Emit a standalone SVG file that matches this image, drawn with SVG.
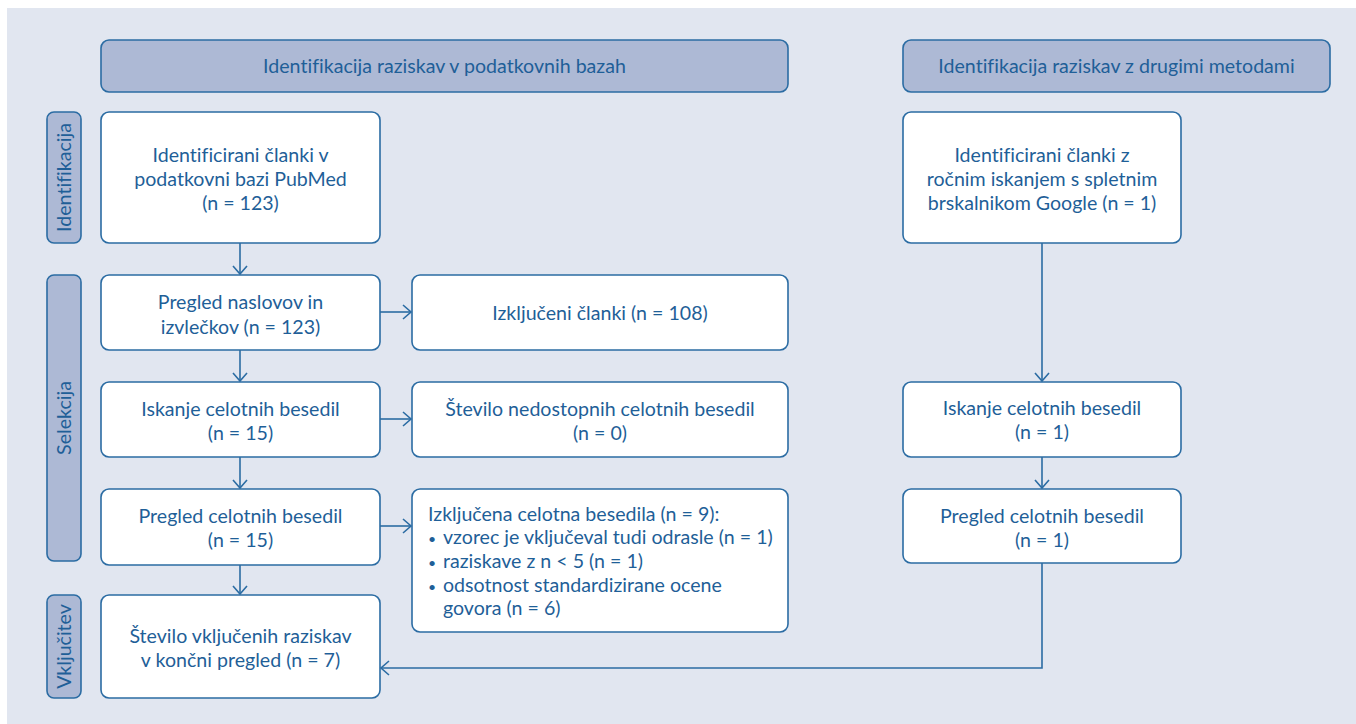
<svg xmlns="http://www.w3.org/2000/svg" width="1356" height="724" viewBox="0 0 1356 724">
<defs>
<style>
.bg{fill:#e1e6f0}
.box{fill:#ffffff;stroke:#2b6ca3;stroke-width:1.6}
.hdr{fill:#adb9d5;stroke:#2b6ca3;stroke-width:1.6}
text{font-family:Lato,"Open Sans",sans-serif;font-size:19.6px;fill:#1f5f98;font-variant-ligatures:none}
.c{text-anchor:middle}
.b{font-size:14px}
.ln{fill:none;stroke:#2b6ca3;stroke-width:1.6}
</style>
<marker id="ar" markerUnits="userSpaceOnUse" markerWidth="14" markerHeight="16" refX="9" refY="8" orient="auto">
<path d="M1,1 L9,8 L1,15" fill="none" stroke="#2b6ca3" stroke-width="1.6"/>
</marker>
</defs>
<rect class="bg" x="7" y="8" width="1349" height="716"/>

<g id="hdr-db"><rect class="hdr" x="101" y="40" width="687" height="52" rx="8"/><text class="c" x="444.5" y="73">Identifikacija raziskav v podatkovnih bazah</text></g>
<g id="hdr-other"><rect class="hdr" x="903" y="40" width="427" height="52" rx="8"/><text class="c" x="1116.5" y="73">Identifikacija raziskav z drugimi metodami</text></g>

<g id="side-ident"><rect class="hdr" x="47" y="112" width="34" height="131" rx="7"/><text class="c" transform="translate(71,177.5) rotate(-90)">Identifikacija</text></g>
<g id="side-sel"><rect class="hdr" x="47" y="275" width="34" height="286" rx="7"/><text class="c" transform="translate(71,418) rotate(-90)">Selekcija</text></g>
<g id="side-vkl"><rect class="hdr" x="47" y="595" width="34" height="103" rx="7"/><text class="c" transform="translate(71,646.5) rotate(-90)">Vključitev</text></g>

<g id="n-pubmed"><rect class="box" x="101" y="112" width="279" height="131" rx="8"/>
<text class="c" x="240.5" y="162">Identificirani članki v</text>
<text class="c" x="240.5" y="186">podatkovni bazi PubMed</text>
<text class="c" x="240.5" y="210">(n = 123)</text></g>

<g id="n-naslovi"><rect class="box" x="101" y="275" width="279" height="75" rx="8"/>
<text class="c" x="240.5" y="309">Pregled naslovov in</text>
<text class="c" x="240.5" y="334">izvlečkov (n = 123)</text></g>

<g id="n-izkl"><rect class="box" x="412" y="275" width="376" height="75" rx="8"/>
<text class="c" x="600" y="320">Izključeni članki (n = 108)</text></g>

<g id="n-iskanje"><rect class="box" x="101" y="382" width="279" height="75" rx="8"/>
<text class="c" x="240.5" y="416">Iskanje celotnih besedil</text>
<text class="c" x="240.5" y="440">(n = 15)</text></g>

<g id="n-nedost"><rect class="box" x="412" y="382" width="376" height="75" rx="8"/>
<text class="c" x="600" y="416">Število nedostopnih celotnih besedil</text>
<text class="c" x="600" y="440">(n = 0)</text></g>

<g id="n-pregled"><rect class="box" x="101" y="489" width="279" height="76" rx="8"/>
<text class="c" x="240.5" y="523">Pregled celotnih besedil</text>
<text class="c" x="240.5" y="547">(n = 15)</text></g>

<g id="n-izkl2"><rect class="box" x="412" y="489" width="376" height="143" rx="8"/>
<text x="428" y="521">Izključena celotna besedila (n = 9):</text>
<text y="544"><tspan class="b" x="428">•</tspan><tspan x="443">vzorec je vključeval tudi odrasle (n = 1)</tspan></text>
<text y="568"><tspan class="b" x="428">•</tspan><tspan x="443">raziskave z n &lt; 5 (n = 1)</tspan></text>
<text y="592"><tspan class="b" x="428">•</tspan><tspan x="443">odsotnost standardizirane ocene</tspan></text>
<text x="443" y="615">govora (n = 6)</text></g>

<g id="n-final"><rect class="box" x="101" y="595" width="279" height="103" rx="8"/>
<text class="c" x="240.5" y="643">Število vključenih raziskav</text>
<text class="c" x="240.5" y="667">v končni pregled (n = 7)</text></g>

<g id="n-google"><rect class="box" x="903" y="112" width="278" height="131" rx="8"/>
<text class="c" x="1042" y="162">Identificirani članki z</text>
<text class="c" x="1042" y="186">ročnim iskanjem s spletnim</text>
<text class="c" x="1042" y="210">brskalnikom Google (n = 1)</text></g>

<g id="n-iskanje2"><rect class="box" x="903" y="382" width="278" height="75" rx="8"/>
<text class="c" x="1042" y="415">Iskanje celotnih besedil</text>
<text class="c" x="1042" y="439">(n = 1)</text></g>

<g id="n-pregled2"><rect class="box" x="903" y="489" width="278" height="74" rx="8"/>
<text class="c" x="1042" y="523">Pregled celotnih besedil</text>
<text class="c" x="1042" y="547">(n = 1)</text></g>

<g id="connectors">
<line class="ln" x1="240" y1="243" x2="240" y2="274" marker-end="url(#ar)"/>
<line class="ln" x1="240" y1="350" x2="240" y2="381" marker-end="url(#ar)"/>
<line class="ln" x1="240" y1="457" x2="240" y2="488" marker-end="url(#ar)"/>
<line class="ln" x1="240" y1="565" x2="240" y2="594" marker-end="url(#ar)"/>
<line class="ln" x1="380" y1="312" x2="411" y2="312" marker-end="url(#ar)"/>
<line class="ln" x1="380" y1="419" x2="411" y2="419" marker-end="url(#ar)"/>
<line class="ln" x1="380" y1="526" x2="411" y2="526" marker-end="url(#ar)"/>
<line class="ln" x1="1042" y1="243" x2="1042" y2="381" marker-end="url(#ar)"/>
<line class="ln" x1="1042" y1="457" x2="1042" y2="488" marker-end="url(#ar)"/>
<polyline class="ln" points="1042,563 1042,668 381,668" marker-end="url(#ar)"/>
</g>
</svg>
